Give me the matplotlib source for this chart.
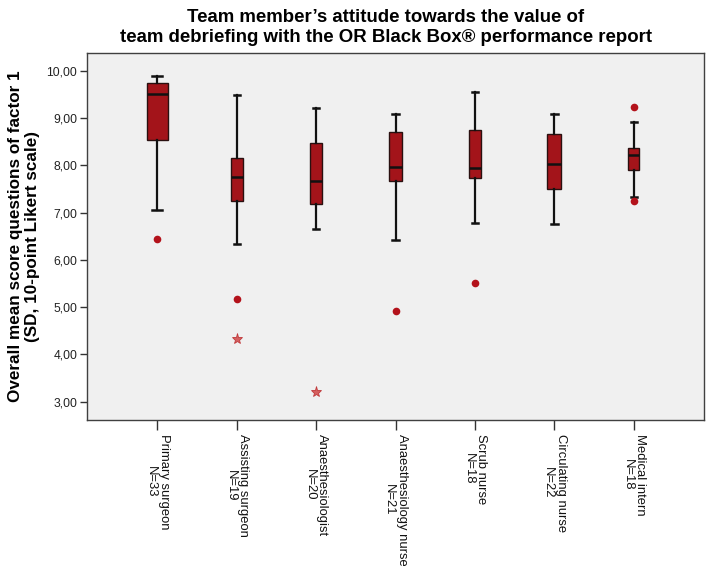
import matplotlib
matplotlib.use("Agg")
import matplotlib.pyplot as plt
import numpy as np

categories = ["Primary surgeon", "Assisting surgeon", "Anaesthesiologist",
              "Anaesthesiology nurse", "Scrub nurse", "Circulating nurse", "Medical intern"]
n_counts = [33, 19, 20, 21, 18, 22, 18]
whisker_low = [7.06, 6.33, 6.66, 6.42, 6.79, 6.75, 7.33]
q1 = [8.53, 7.25, 7.19, 7.66, 7.74, 7.50, 7.91]
medians = [9.51, 7.75, 7.67, 7.96, 7.95, 8.02, 8.21]
q3 = [9.75, 8.15, 8.48, 8.71, 8.75, 8.67, 8.36]
whisker_high = [9.90, 9.49, 9.21, 9.08, 9.56, 9.08, 8.91]
outliers = [[6.44], [5.18], [], [4.92], [5.50], [], [9.24, 7.25]]
extremes = [[], [4.33], [3.20], [], [], [], []]
y_ticks = [3, 4, 5, 6, 7, 8, 9, 10]

title = "Team member\u2019s attitude towards the value of\nteam debriefing with the OR Black Box\u00ae performance report"
ylabel = "Overall mean score questions of factor 1\n(SD, 10-point Likert scale)"

plt.rcParams['font.family'] = ['Liberation Sans', 'DejaVu Sans']

fig = plt.figure(figsize=(7.08, 5.66), dpi=100)
ax = fig.add_axes([87/708, 1-420/566, (704-87)/708, (420-53)/566])
ax.set_facecolor("#F0F0F0")

positions = np.arange(1, len(categories) + 1)
widths = [n * 0.0079 for n in n_counts]
stats = []
for i in range(len(categories)):
    stats.append(dict(med=medians[i], q1=q1[i], q3=q3[i],
                      whislo=whisker_low[i], whishi=whisker_high[i], fliers=[]))

ax.bxp(stats, positions=positions, widths=widths, capwidths=[w / 2 for w in widths],
       patch_artist=True, showfliers=False,
       boxprops=dict(facecolor="#A3141A", edgecolor="#2a1010", linewidth=1.0),
       medianprops=dict(color="#111111", linewidth=1.8),
       whiskerprops=dict(color="#111111", linewidth=1.6),
       capprops=dict(color="#111111", linewidth=1.8))

for i, vals in enumerate(outliers):
    if vals:
        ax.plot([positions[i]] * len(vals), vals, 'o', color="#B3121B",
                markersize=5.5, markeredgewidth=0, zorder=4)
for i, vals in enumerate(extremes):
    if vals:
        ax.plot([positions[i]] * len(vals), vals, '*', markersize=8,
                markerfacecolor="#D46060", markeredgecolor="#C0393B",
                markeredgewidth=0.6, zorder=4)

ax.set_xlim(0.115, 7.885)
ax.set_ylim(2.61, 10.38)
ax.set_yticks(y_ticks)
ax.set_yticklabels([f"{v:.2f}".replace(".", ",") for v in y_ticks], fontsize=8.7, color="#222222")
ax.set_xticks(positions)
ax.set_xticklabels([f"{c}\nN={n}" for c, n in zip(categories, n_counts)],
                   rotation=-90, fontsize=9.4, va="top", ha="center", color="#111111",
                   linespacing=1.05)
ax.tick_params(axis="y", direction="out", length=5, width=1, color="#333333", pad=2)
ax.tick_params(axis="x", direction="out", length=7, width=1, color="#333333", pad=3)
for s in ax.spines.values():
    s.set_color("#404040")
    s.set_linewidth(1.0)

ax.set_ylabel(ylabel, fontsize=12.3, fontweight="bold", labelpad=5, linespacing=1.12)
fig.text(386/708, 1 - 9/566, title, ha="center", va="top", fontsize=13.4,
         fontweight="bold", linespacing=1.2)

fig.savefig("out.png", dpi=100, facecolor="white")
